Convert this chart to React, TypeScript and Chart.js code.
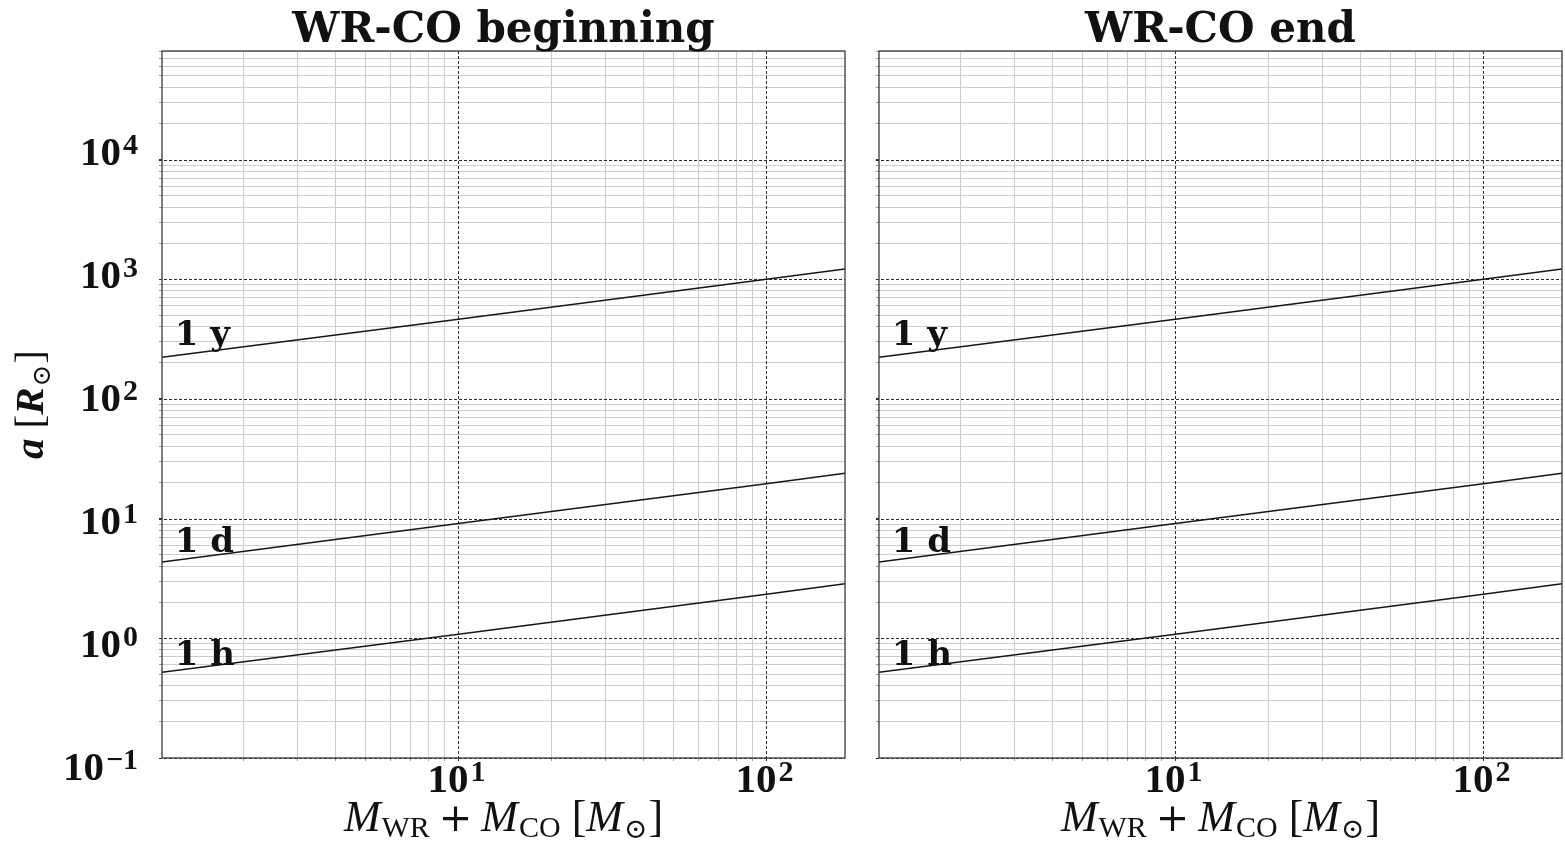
import React, { useEffect, useRef } from "react";
import { Chart, registerables } from "chart.js";

Chart.register(...registerables);

// ---- data ----
const masses = [1.09, 10, 100, 180];
const sep1y = [223, 463, 998, 1215];
const sep1d = [4.35, 9.1, 19.6, 23.9];
const sep1h = [0.52, 1.08, 2.33, 2.85];
const periodLabels = ["1 y", "1 d", "1 h"];
const labelMass = 1.2;
const labelSep = [280, 5.3, 0.6];
const panelTitles = ["WR-CO beginning", "WR-CO end"];
const xDecadeExps = [1, 2];
const yDecadeExps = [-1, 0, 1, 2, 3, 4];
const xMin = 1.09;
const xMax = 180;
const yMin = 0.1;
const yMax = 80700;

const SERIF = '"Liberation Serif", "DejaVu Serif", serif';
const DSERIF = '"DejaVu Serif", "Liberation Serif", serif';

function isDecade(v: number) {
  const l = Math.log10(v);
  return Math.abs(l - Math.round(l)) < 1e-6;
}

function logTicks(min: number, max: number): number[] {
  const out: number[] = [];
  for (let e = Math.floor(Math.log10(min)); e <= Math.ceil(Math.log10(max)); e++) {
    for (let m = 1; m <= 9; m++) {
      const v = m * Math.pow(10, e);
      if (v >= min * 0.9999 && v <= max * 1.0001) out.push(v);
    }
  }
  return out;
}

type Piece = { t: string; font: string; dy?: number; dx?: number };

function piecesWidth(ctx: CanvasRenderingContext2D, pieces: Piece[]) {
  let w = 0;
  for (const p of pieces) {
    ctx.font = p.font;
    w += ctx.measureText(p.t).width + (p.dx || 0);
  }
  return w;
}

function drawPieces(
  ctx: CanvasRenderingContext2D,
  pieces: Piece[],
  x: number,
  y: number,
  align: "left" | "center" | "right"
) {
  const w = piecesWidth(ctx, pieces);
  let cx = align === "center" ? x - w / 2 : align === "right" ? x - w : x;
  ctx.textAlign = "left";
  ctx.textBaseline = "alphabetic";
  for (const p of pieces) {
    ctx.font = p.font;
    cx += p.dx || 0;
    ctx.fillText(p.t, cx, y + (p.dy || 0));
    cx += ctx.measureText(p.t).width;
  }
}

function powPieces(exp: number): Piece[] {
  const e = exp < 0 ? "\u2212" + Math.abs(exp) : String(exp);
  return [
    { t: "10", font: `bold 41px ${SERIF}` },
    { t: e, font: `bold 30px ${SERIF}`, dy: -11, dx: 2 },
  ];
}

function makePlugin(panel: number) {
  return {
    id: "panelDeco" + panel,
    beforeDatasetsDraw(chart: any) {
      const { ctx, chartArea: a, scales } = chart;
      const x = scales.x;
      const y = scales.y;
      ctx.save();
      ctx.strokeStyle = "#2a2a2a";
      ctx.lineWidth = 1;
      ctx.setLineDash([3, 2]);
      for (const e of xDecadeExps) {
        const px = Math.round(x.getPixelForValue(Math.pow(10, e))) + 0.5;
        ctx.beginPath();
        ctx.moveTo(px, a.top);
        ctx.lineTo(px, a.bottom + 3);
        ctx.stroke();
      }
      for (const e of yDecadeExps) {
        const py = Math.round(y.getPixelForValue(Math.pow(10, e))) + 0.5;
        ctx.beginPath();
        ctx.moveTo(a.left - 3, py);
        ctx.lineTo(a.right, py);
        ctx.stroke();
      }
      ctx.restore();
    },
    afterDatasetsDraw(chart: any) {
      const { ctx, chartArea: a, scales } = chart;
      const x = scales.x;
      const y = scales.y;
      ctx.save();
      ctx.strokeStyle = "#3a3a3a";
      ctx.lineWidth = 1.3;
      ctx.setLineDash([]);
      ctx.strokeRect(a.left, a.top, a.right - a.left, a.bottom - a.top);
      ctx.fillStyle = "#111";
      periodLabels.forEach((lab, i) => {
        const px = x.getPixelForValue(labelMass);
        const py = y.getPixelForValue(labelSep[i]);
        ctx.font = `bold 34px ${DSERIF}`;
        ctx.textAlign = "left";
        ctx.textBaseline = "alphabetic";
        ctx.fillText(lab, px, py);
      });
      ctx.restore();
    },
    afterDraw(chart: any) {
      const { ctx, chartArea: a, scales } = chart;
      const x = scales.x;
      const y = scales.y;
      ctx.save();
      ctx.fillStyle = "#111";
      // title
      ctx.font = `bold 42px ${DSERIF}`;
      ctx.textAlign = "center";
      ctx.textBaseline = "alphabetic";
      ctx.fillText(panelTitles[panel], (a.left + a.right) / 2, 42);
      // x tick labels
      for (const e of xDecadeExps) {
        const px = x.getPixelForValue(Math.pow(10, e));
        drawPieces(ctx, powPieces(e), px - 2, 792, "center");
      }
      // x axis label
      const big = `italic 44px ${SERIF}`;
      const rom = `44px ${SERIF}`;
      const sub = `30px ${SERIF}`;
      const xl: Piece[] = [
        { t: "M", font: big },
        { t: "WR", font: sub, dy: 6, dx: 1 },
        { t: "+", font: `40px ${DSERIF}`, dx: 9 },
        { t: "M", font: big, dx: 9 },
        { t: "CO", font: sub, dy: 6, dx: 1 },
        { t: "[", font: rom, dx: 11 },
        { t: "M", font: big },
        { t: "\u2299", font: `28px ${DSERIF}`, dy: 7, dx: 1 },
        { t: "]", font: rom, dx: 1 },
      ];
      drawPieces(ctx, xl, (a.left + a.right) / 2, 831, "center");
      if (panel === 0) {
        // y tick labels
        for (const e of yDecadeExps) {
          const py = y.getPixelForValue(Math.pow(10, e));
          drawPieces(ctx, powPieces(e), 138, py + 5 + (4 - e) * 3.3, "right");
        }
        // y axis label
        ctx.save();
        ctx.translate(43, (a.top + a.bottom) / 2);
        ctx.rotate(-Math.PI / 2);
        const yl: Piece[] = [
          { t: "a", font: `bold italic 41px ${SERIF}` },
          { t: "[", font: `41px ${SERIF}`, dx: 10 },
          { t: "R", font: `bold italic 41px ${SERIF}` },
          { t: "\u2299", font: `26px ${DSERIF}`, dy: 7, dx: 1 },
          { t: "]", font: `41px ${SERIF}`, dx: 1 },
        ];
        drawPieces(ctx, yl, 0, 0, "center");
        ctx.restore();
      }
      ctx.restore();
    },
  };
}

function makeConfig(panel: number): any {
  const allX = logTicks(xMin, xMax);
  const allY = logTicks(yMin, yMax);
  const gridFor = () => ({
    display: true,
    drawOnChartArea: true,
    drawTicks: true,
    tickLength: 3,
    lineWidth: 1,
    color: (c: any) => (c.tick && isDecade(c.tick.value) ? "rgba(0,0,0,0)" : "#cdcdcd"),
    tickColor: (c: any) => (c.tick && isDecade(c.tick.value) ? "#333" : "#999"),
  });
  return {
    type: "line",
    data: {
      datasets: [sep1y, sep1d, sep1h].map((arr, i) => ({
        label: periodLabels[i],
        data: masses.map((m, j) => ({ x: m, y: arr[j] })),
        borderColor: "#161616",
        borderWidth: 1.5,
        pointRadius: 0,
        tension: 0,
        fill: false,
      })),
    },
    options: {
      animation: false,
      responsive: false,
      maintainAspectRatio: false,
      layout: { padding: { top: 51, right: panel === 0 ? 17 : 3, left: 0, bottom: 0 } },
      plugins: {
        legend: { display: false },
        tooltip: { enabled: false },
        title: { display: false },
      },
      scales: {
        x: {
          type: "logarithmic",
          min: xMin,
          max: xMax,
          afterBuildTicks: (s: any) => {
            s.ticks = allX.map((v) => ({ value: v }));
          },
          afterFit: (s: any) => {
            s.height = 86;
          },
          ticks: { display: false },
          grid: gridFor(),
          border: { display: false },
        },
        y: {
          type: "logarithmic",
          min: yMin,
          max: yMax,
          afterBuildTicks: (s: any) => {
            s.ticks = allY.map((v) => ({ value: v }));
          },
          afterFit: (s: any) => {
            s.width = panel === 0 ? 162 : 17;
          },
          ticks: { display: false },
          grid: gridFor(),
          border: { display: false },
        },
      },
    },
    plugins: [makePlugin(panel)],
  };
}

function Panel({ panel, left, width }: { panel: number; left: number; width: number }) {
  const ref = useRef<HTMLCanvasElement | null>(null);
  useEffect(() => {
    if (!ref.current) return;
    const chart = new Chart(ref.current, makeConfig(panel));
    return () => chart.destroy();
  }, [panel]);
  return (
    <canvas
      ref={ref}
      width={width}
      height={844}
      style={{ position: "absolute", left, top: 0, width, height: 844 }}
    />
  );
}

export default function App() {
  return (
    <div
      style={{
        position: "absolute",
        left: 0,
        top: 0,
        width: 1565,
        height: 844,
        background: "#fff",
        overflow: "hidden",
      }}
    >
      <Panel panel={0} left={0} width={862} />
      <Panel panel={1} left={862} width={703} />
    </div>
  );
}
